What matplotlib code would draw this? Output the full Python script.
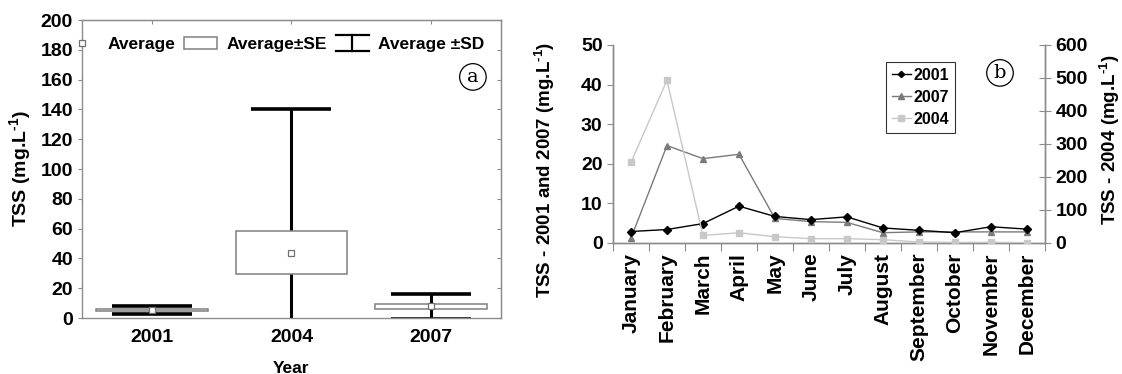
import matplotlib
matplotlib.use("Agg")
import matplotlib.pyplot as plt
from matplotlib.lines import Line2D
from matplotlib.patches import Rectangle
from matplotlib.legend_handler import HandlerBase

plt.rcParams['font.family'] = ['Liberation Sans', 'DejaVu Sans']
plt.rcParams['font.weight'] = 'bold'
plt.rcParams['mathtext.fontset'] = 'custom'
plt.rcParams['mathtext.bf'] = 'Liberation Sans:bold'
plt.rcParams['mathtext.rm'] = 'Liberation Sans:bold'
plt.rcParams['mathtext.default'] = 'bf'

# panel a: yearly mean, standard error and standard deviation
years = ['2001', '2004', '2007']
year_mean = [5.4, 43.8, 7.8]
year_se = [0.6, 14.3, 1.9]
year_sd = [2.6, 96.2, 8.4]

# panel b: monthly TSS
months = ['January', 'February', 'March', 'April', 'May', 'June', 'July',
          'August', 'September', 'October', 'November', 'December']
tss_2001 = [2.9, 3.4, 4.9, 9.3, 6.7, 5.9, 6.6, 3.8, 3.2, 2.6, 4.1, 3.5]
tss_2007 = [1.2, 24.6, 21.3, 22.4, 6.2, 5.4, 5.2, 2.6, 2.8, 2.8, 2.8, 2.8]
tss_2004 = [244, 493, 23, 31, 19, 13, 13, 10, 3, 2, 2, 1]

SPINE = '#8c8c8c'
UNIT = r'(mg.L$^{\text{-}1}$)'


class SDHandler(HandlerBase):
    """Legend handle drawn as an I-shaped error bar."""
    def create_artists(self, legend, orig_handle, xdescent, ydescent,
                       width, height, fontsize, trans):
        x0, x1 = -xdescent, -xdescent + width
        y0, y1 = -ydescent - 0.15 * height, -ydescent + 1.15 * height
        xm = (x0 + x1) / 2
        parts = [Line2D([x0, x1], [y0, y0]), Line2D([x0, x1], [y1, y1]),
                 Line2D([xm, xm], [y0, y1])]
        for p in parts:
            p.set_color('black')
            p.set_linewidth(1.6)
            p.set_transform(trans)
        return parts


fig = plt.figure(figsize=(11.22, 3.74), dpi=100)

# ---------------- panel a ----------------
ax1 = fig.add_axes([0.0731, 0.1497, 0.3734, 0.7968])
pos = [1, 2, 3]
ax1.errorbar(pos, year_mean, yerr=year_sd, fmt='none', ecolor='black',
             elinewidth=2.2, capsize=28.5, capthick=2.6, zorder=2)
ax1.bar(pos, [2 * s for s in year_se],
        bottom=[m - s for m, s in zip(year_mean, year_se)], width=0.8,
        color='white', edgecolor='#808080', linewidth=1.1, zorder=3)
ax1.plot(pos, year_mean, ls='none', marker='s', ms=4, mfc='white',
         mec='#707070', mew=0.9, zorder=4)

ax1.set_xlim(0.5, 3.5)
ax1.set_ylim(0, 200)
ax1.set_yticks(range(0, 201, 20))
ax1.set_xticks(pos)
ax1.set_xticklabels(years)
ax1.tick_params(axis='both', labelsize=14, colors=SPINE, labelcolor='black',
                length=3, width=0.8)
ax1.tick_params(axis='x', length=0, pad=8)
for sp in ax1.spines.values():
    sp.set_color(SPINE)
    sp.set_linewidth(1.0)
sec = ax1.secondary_yaxis('right')
sec.set_yticks(range(0, 201, 20))
sec.tick_params(direction='in', length=3, colors=SPINE, labelright=False)
sec.spines['right'].set_color(SPINE)
secx = ax1.secondary_xaxis('top')
secx.set_xticks(pos)
secx.tick_params(direction='in', length=3, colors=SPINE, labeltop=False)
secx.spines['top'].set_color(SPINE)

ax1.set_ylabel('TSS ' + UNIT, fontsize=14, fontweight='bold')
ax1.yaxis.set_label_coords(-0.118, 0.5)
ax1.set_xlabel('Year', fontsize=12.5, fontweight='bold')
ax1.xaxis.set_label_coords(0.5, -0.145)

h_mean = Line2D([], [], ls='none', marker='s', ms=4, mfc='white',
                mec='#707070', mew=0.9)
h_se = Rectangle((0, 0), 1, 1, facecolor='white', edgecolor='#808080',
                 linewidth=1.1)
h_sd = Line2D([], [], color='black')
ax1.legend([h_mean, h_se, h_sd], ['Average', 'Average±SE', 'Average ±SD'],
           handler_map={h_sd: SDHandler()}, ncol=3, frameon=False,
           loc='upper left', bbox_to_anchor=(-0.04, 0.942), borderpad=0,
           borderaxespad=0, fontsize=12.5, handlelength=1.9,
           handletextpad=0.55, columnspacing=0.5)
ax1.text(0.933, 0.809, 'a', transform=ax1.transAxes, ha='center',
         va='center', fontsize=14, fontweight='normal',
         family='DejaVu Serif',
         bbox=dict(boxstyle='circle,pad=0.22', fc='white', ec='black',
                   lw=0.9))

# ---------------- panel b ----------------
ax2 = fig.add_axes([0.5463, 0.3503, 0.385, 0.5294])
ax3 = ax2.twinx()
x = list(range(len(months)))
l1, = ax2.plot(x, tss_2001, color='black', lw=1.0, marker='D', ms=4,
               label='2001', zorder=5)
l2, = ax2.plot(x, tss_2007, color='#7a7a7a', lw=1.0, marker='^', ms=5,
               label='2007', zorder=4)
l3, = ax3.plot(x, tss_2004, color='#c8c8c8', lw=1.0, marker='s', ms=5,
               label='2004', zorder=3)

ax2.set_xlim(-0.5, len(months) - 0.5)
ax2.set_ylim(0, 50)
ax3.set_ylim(0, 600)
ax2.set_yticks(range(0, 51, 10))
ax3.set_yticks(range(0, 601, 100))
ax2.set_xticks(x)
ax2.set_xticklabels(months, rotation=90, fontsize=15)
ax2.set_xticks([i - 0.5 for i in range(len(months) + 1)], minor=True)
ax2.tick_params(axis='x', which='major', length=0, pad=7)
ax2.tick_params(axis='x', which='minor', length=6, width=0.8,
                color=SPINE, direction='out')
ax2.tick_params(axis='y', labelsize=14, color=SPINE, length=4, width=0.8)
ax3.tick_params(axis='y', labelsize=14, color=SPINE, length=8, width=0.8,
                direction='inout')
for a in (ax2, ax3):
    a.spines['top'].set_visible(False)
    for s in ('left', 'right', 'bottom'):
        a.spines[s].set_color(SPINE)
        a.spines[s].set_linewidth(1.0)

ax2.set_ylabel('TSS - 2001 and 2007 ' + UNIT, fontsize=13.5,
               fontweight='bold')
ax2.yaxis.set_label_coords(-0.13, 0.37)
ax3.set_ylabel('TSS - 2004 ' + UNIT, fontsize=13.5, fontweight='bold')
ax3.yaxis.set_label_coords(1.123, 0.52)

leg = ax3.legend([l1, l2, l3], ['2001', '2007', '2004'], loc='upper left',
                 bbox_to_anchor=(0.632, 0.914), borderaxespad=0,
                 fancybox=False, edgecolor='black', fontsize=11.5,
                 handlelength=1.2, handletextpad=0.2, borderpad=0.35,
                 labelspacing=0.45, markerscale=0.8)
leg.get_frame().set_linewidth(0.8)
ax3.text(0.896, 0.859, 'b', transform=ax3.transAxes, ha='center',
         va='center', fontsize=14, fontweight='normal',
         family='DejaVu Serif',
         bbox=dict(boxstyle='circle,pad=0.22', fc='white', ec='black',
                   lw=0.9))

fig.savefig('out.png', dpi=100)
